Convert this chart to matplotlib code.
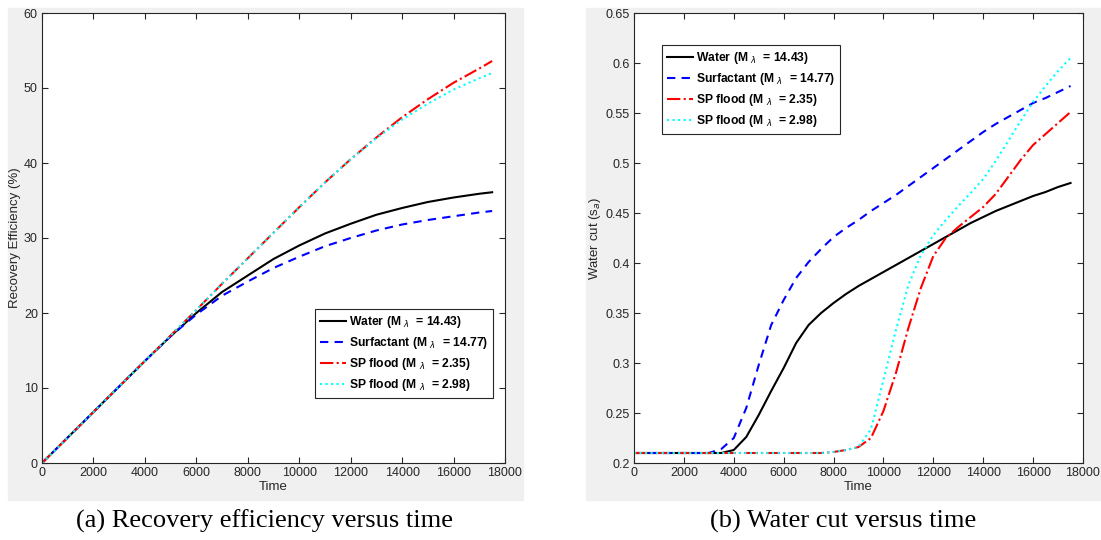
import numpy as np
import matplotlib
matplotlib.use("Agg")
import matplotlib.pyplot as plt
from matplotlib.patches import Rectangle

plt.rcParams['font.family'] = ['Liberation Sans', 'DejaVu Sans']

# recovery efficiency (%) vs time
t_re = [0, 1000, 2000, 3000, 4000, 5000, 6000, 7000, 8000, 9000, 10000,
        11000, 12000, 13000, 14000, 15000, 16000, 17000, 17500]
water_re = [0, 3.4, 6.8, 10.2, 13.6, 16.9, 20.0, 22.8, 25.0, 27.2, 29.0,
            30.6, 31.9, 33.1, 34.0, 34.8, 35.4, 35.9, 36.1]
surf_re = [0, 3.4, 6.8, 10.2, 13.6, 16.9, 19.8, 22.3, 24.2, 26.0, 27.5,
           28.9, 30.0, 31.0, 31.8, 32.4, 32.9, 33.4, 33.6]
sp1_re = [0, 3.4, 6.8, 10.2, 13.6, 17.0, 20.4, 23.9, 27.3, 30.7, 34.1,
          37.4, 40.5, 43.4, 46.1, 48.5, 50.7, 52.6, 53.6]
sp2_re = [0, 3.4, 6.8, 10.2, 13.6, 17.0, 20.4, 23.9, 27.3, 30.7, 34.1,
          37.4, 40.5, 43.3, 45.8, 47.9, 49.8, 51.3, 52.0]

# water cut vs time
t_wc = [0, 1000, 2000, 3000, 3500, 4000, 4500, 5000, 5500, 6000, 6500, 7000,
        7500, 8000, 8500, 9000, 9500, 10000, 10500, 11000, 11500, 12000,
        12500, 13000, 13500, 14000, 14500, 15000, 15500, 16000, 16500, 17000, 17500]
water_wc = [0.21, 0.21, 0.21, 0.21, 0.210, 0.213, 0.226, 0.248, 0.272, 0.295, 0.320, 0.338,
            0.350, 0.360, 0.369, 0.377, 0.384, 0.391, 0.398, 0.405, 0.412, 0.419,
            0.426, 0.433, 0.440, 0.446, 0.452, 0.457, 0.462, 0.467, 0.471, 0.476, 0.480]
surf_wc = [0.21, 0.21, 0.21, 0.21, 0.214, 0.225, 0.255, 0.298, 0.338, 0.363, 0.385, 0.401,
           0.414, 0.426, 0.435, 0.443, 0.452, 0.460, 0.468, 0.477, 0.486, 0.495,
           0.504, 0.513, 0.522, 0.531, 0.539, 0.546, 0.553, 0.560, 0.565, 0.571, 0.577]
sp1_wc = [0.21, 0.21, 0.21, 0.21, 0.21, 0.21, 0.21, 0.21, 0.21, 0.21, 0.21, 0.21,
          0.21, 0.211, 0.213, 0.216, 0.225, 0.252, 0.290, 0.335, 0.375, 0.407,
          0.425, 0.436, 0.446, 0.456, 0.469, 0.486, 0.503, 0.518, 0.529, 0.540, 0.551]
sp2_wc = [0.21, 0.21, 0.21, 0.21, 0.21, 0.21, 0.21, 0.21, 0.21, 0.21, 0.21, 0.21,
          0.21, 0.211, 0.213, 0.216, 0.234, 0.283, 0.333, 0.378, 0.408, 0.428,
          0.443, 0.457, 0.470, 0.484, 0.502, 0.522, 0.542, 0.561, 0.577, 0.592, 0.605]

labels = [r'Water (M $_{\lambda}$  = 14.43)', r'Surfactant (M $_{\lambda}$  = 14.77)',
          r'SP flood (M $_{\lambda}$  = 2.35)', r'SP flood (M $_{\lambda}$  = 2.98)']
styles = [dict(color='black', ls='-'), dict(color='blue', ls=(0, (4, 3))),
          dict(color='red', ls='-.'), dict(color='cyan', ls=':')]

W, H = 1101, 540
fig = plt.figure(figsize=(W / 100, H / 100), dpi=100)
fig.patch.set_facecolor('white')

# grey panel backgrounds (MATLAB figure colour)
for x0, x1 in [(8, 523), (586, 1101)]:
    fig.add_artist(Rectangle((x0 / W, 1 - 500 / H), (x1 - x0) / W, 492 / H,
                             transform=fig.transFigure, color='#f0f0f0', zorder=0))

ax1 = fig.add_axes([42 / W, 1 - 463 / H, 463 / W, 450 / H])
ax2 = fig.add_axes([634 / W, 1 - 463 / H, 449 / W, 450 / H])

for ys, st, lb in zip([water_re, surf_re, sp1_re, sp2_re], styles, labels):
    ax1.plot(t_re, ys, lw=1.5, label=lb, **st)
for ys, st, lb in zip([water_wc, surf_wc, sp1_wc, sp2_wc], styles, labels):
    ax2.plot(t_wc, ys, lw=1.5, label=lb, **st)

ax1.set_xlim(0, 18000)
ax1.set_ylim(0, 60)
ax1.set_yticks(range(0, 61, 10))
ax2.set_xlim(0, 18000)
ax2.set_ylim(0.2, 0.65)
ax2.set_yticks([0.2, 0.25, 0.3, 0.35, 0.4, 0.45, 0.5, 0.55, 0.6, 0.65])
ax2.set_yticklabels(['0.2', '0.25', '0.3', '0.35', '0.4', '0.45', '0.5', '0.55', '0.6', '0.65'])

ax1.set_xlabel('Time', fontsize=9.5, color='#262626', labelpad=1)
ax1.set_ylabel('Recovery Efficiency (%)', fontsize=9.5, color='#262626', labelpad=2)
ax2.set_xlabel('Time', fontsize=9.5, color='#262626', labelpad=1)
ax2.set_ylabel(r'Water cut (s$_a$)', fontsize=9.5, color='#262626', labelpad=2)

for ax in (ax1, ax2):
    ax.set_xticks(range(0, 18001, 2000))
    ax.tick_params(direction='in', length=4, width=0.8, labelsize=9,
                   colors='#262626', top=True, right=True, pad=3)
    for sp in ax.spines.values():
        sp.set_color('#262626')
        sp.set_linewidth(0.8)
    ax.set_facecolor('white')

leg_kw = dict(prop={'weight': 'bold', 'size': 8.7}, fancybox=False,
              edgecolor='#262626', framealpha=1, handlelength=2.2,
              handletextpad=0.2, borderpad=0.4, labelspacing=0.42,
              borderaxespad=0)
l1 = ax1.legend(loc='lower right', bbox_to_anchor=(0.974, 0.144), **leg_kw)
l2 = ax2.legend(loc='upper left', bbox_to_anchor=(0.062, 0.929), **leg_kw)
for lg in (l1, l2):
    lg.get_frame().set_linewidth(0.8)

fig.text(265 / W, 1 - 521 / H, '(a) Recovery efficiency versus time',
         family='Liberation Serif', fontsize=19, ha='center', va='center')
fig.text(843 / W, 1 - 521 / H, '(b) Water cut versus time',
         family='Liberation Serif', fontsize=19, ha='center', va='center')

fig.savefig('out.png', dpi=100)
